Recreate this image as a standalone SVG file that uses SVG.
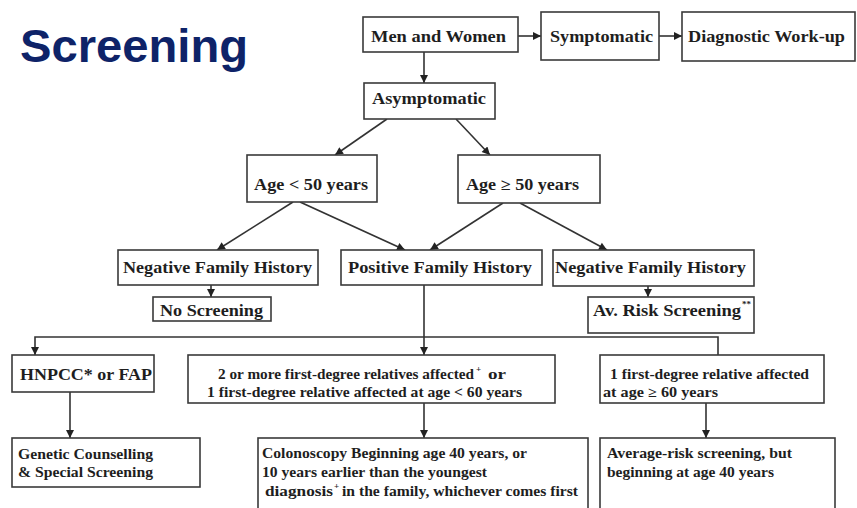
<svg xmlns="http://www.w3.org/2000/svg" width="857" height="508" viewBox="0 0 857 508">
<style>
.box{fill:#fff;stroke:#3a3a3a;stroke-width:1.6}
.t{font-family:"Liberation Serif","Times New Roman",serif;font-weight:bold;font-size:16px;fill:#1e1e1e}
.s{font-size:14px}
.sup{font-size:9px}
.c{fill:none;stroke:#333;stroke-width:1.6}
.title{font-family:"Liberation Sans",Arial,sans-serif;font-weight:bold;font-size:46px;fill:#0e2368}
</style>
<defs>
<marker id="ah" viewBox="0 0 10 10" refX="10" refY="5" markerWidth="9" markerHeight="8" markerUnits="userSpaceOnUse" orient="auto">
<path d="M0,0 L10,5 L0,10 z" fill="#222"/>
</marker>
</defs>
<rect width="857" height="508" fill="#fff"/>
<text class="title" x="20" y="62" textLength="228" lengthAdjust="spacingAndGlyphs">Screening</text>

<g id="connectors" class="c" marker-end="url(#ah)">
<line x1="518" y1="36" x2="541" y2="36"/>
<line x1="659" y1="36" x2="682" y2="36"/>
<line x1="424" y1="52" x2="424" y2="83"/>
<line x1="387" y1="119" x2="335" y2="155"/>
<line x1="456" y1="119" x2="490" y2="155"/>
<line x1="293" y1="202" x2="217" y2="250"/>
<line x1="300" y1="202" x2="405" y2="250"/>
<line x1="503" y1="203" x2="430" y2="250"/>
<line x1="520" y1="203" x2="607" y2="250"/>
<line x1="211" y1="285" x2="211" y2="297"/>
<line x1="648" y1="286" x2="648" y2="297"/>
<line x1="424" y1="285" x2="424" y2="355"/>
<path d="M718,355 V337 H35 V355"/>
<line x1="70" y1="392" x2="70" y2="438"/>
<line x1="424" y1="403" x2="424" y2="438"/>
<line x1="706" y1="403" x2="706" y2="438"/>
</g>

<g id="men-women"><rect class="box" x="363" y="17" width="155" height="35"/>
<text class="t" x="371" y="42" textLength="135" lengthAdjust="spacingAndGlyphs">Men and Women</text></g>
<g id="symptomatic"><rect class="box" x="541" y="12" width="118" height="48"/>
<text class="t" x="550" y="42" textLength="103" lengthAdjust="spacingAndGlyphs">Symptomatic</text></g>
<g id="diagnostic"><rect class="box" x="682" y="12" width="173" height="49"/>
<text class="t" x="688" y="42" textLength="157" lengthAdjust="spacingAndGlyphs">Diagnostic Work-up</text></g>
<g id="asymptomatic"><rect class="box" x="364" y="83" width="131" height="36"/>
<text class="t" x="372" y="104" textLength="114" lengthAdjust="spacingAndGlyphs">Asymptomatic</text></g>
<g id="age-lt-50"><rect class="box" x="247" y="155" width="130" height="47"/>
<text class="t" x="254" y="190" textLength="114" lengthAdjust="spacingAndGlyphs">Age &lt; 50 years</text></g>
<g id="age-ge-50"><rect class="box" x="458" y="155" width="142" height="48"/>
<text class="t" x="466" y="190" textLength="113" lengthAdjust="spacingAndGlyphs">Age ≥ 50 years</text></g>
<g id="neg-left"><rect class="box" x="118" y="250" width="200" height="35"/>
<text class="t" x="123" y="273" textLength="189" lengthAdjust="spacingAndGlyphs">Negative Family History</text></g>
<g id="positive"><rect class="box" x="341" y="250" width="201" height="35"/>
<text class="t" x="348" y="273" textLength="184" lengthAdjust="spacingAndGlyphs">Positive Family History</text></g>
<g id="neg-right"><rect class="box" x="553" y="250" width="201" height="36"/>
<text class="t" x="555" y="273" textLength="191" lengthAdjust="spacingAndGlyphs">Negative Family History</text></g>
<g id="no-screening"><rect class="box" x="153" y="297" width="118" height="24"/>
<text class="t" x="160" y="316" textLength="103" lengthAdjust="spacingAndGlyphs">No Screening</text></g>
<g id="av-risk"><rect class="box" x="588" y="297" width="166" height="36"/>
<text class="t" x="593" y="316" textLength="148" lengthAdjust="spacingAndGlyphs">Av. Risk Screening</text>
<text class="t sup" x="742" y="307">**</text></g>
<g id="hnpcc"><rect class="box" x="12" y="355" width="142" height="37"/>
<text class="t" x="20" y="380" textLength="132" lengthAdjust="spacingAndGlyphs">HNPCC* or FAP</text></g>
<g id="two-or-more"><rect class="box" x="188" y="355" width="367" height="48"/>
<text class="t s" x="218" y="379" textLength="256" lengthAdjust="spacingAndGlyphs">2 or more first-degree relatives affected</text>
<text class="t sup" x="476" y="372">+</text>
<text class="t s" x="488" y="379" textLength="18" lengthAdjust="spacingAndGlyphs">or</text>
<text class="t s" x="207" y="397" textLength="315" lengthAdjust="spacingAndGlyphs">1 first-degree relative affected at age &lt; 60 years</text></g>
<g id="one-first-degree"><rect class="box" x="600" y="355" width="224" height="48"/>
<text class="t s" x="610" y="379" textLength="199" lengthAdjust="spacingAndGlyphs">1 first-degree relative affected</text>
<text class="t s" x="603" y="397" textLength="115" lengthAdjust="spacingAndGlyphs">at age ≥ 60 years</text></g>
<g id="genetic"><rect class="box" x="12" y="438" width="188" height="49"/>
<text class="t s" x="18" y="459" textLength="135" lengthAdjust="spacingAndGlyphs">Genetic Counselling</text>
<text class="t s" x="18" y="477" textLength="135" lengthAdjust="spacingAndGlyphs">&amp; Special Screening</text></g>
<g id="colonoscopy"><rect class="box" x="258" y="438" width="330" height="80"/>
<text class="t s" x="262" y="458" textLength="265" lengthAdjust="spacingAndGlyphs">Colonoscopy Beginning age 40 years, or</text>
<text class="t s" x="262" y="477" textLength="225" lengthAdjust="spacingAndGlyphs">10 years earlier than the youngest</text>
<text class="t s" x="265" y="496" textLength="68" lengthAdjust="spacingAndGlyphs">diagnosis</text>
<text class="t sup" x="334" y="489">+</text>
<text class="t s" x="342" y="496" textLength="236" lengthAdjust="spacingAndGlyphs">in the family, whichever  comes first</text></g>
<g id="average-risk"><rect class="box" x="600" y="438" width="235" height="80"/>
<text class="t s" x="607" y="458" textLength="185" lengthAdjust="spacingAndGlyphs">Average-risk screening, but</text>
<text class="t s" x="607" y="477" textLength="167" lengthAdjust="spacingAndGlyphs">beginning at age 40 years</text></g>
</svg>
